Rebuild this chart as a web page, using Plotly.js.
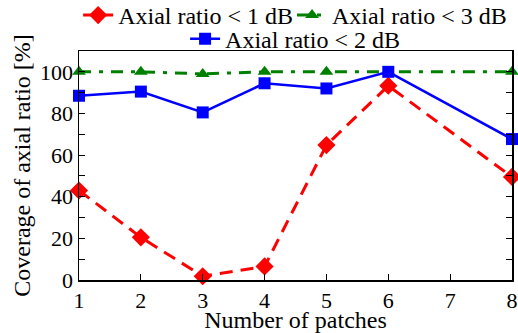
<!DOCTYPE html>
<html>
<head>
<meta charset="utf-8">
<script src="https://cdn.plot.ly/plotly-3.0.1.min.js"></script>
<style>html,body{margin:0;padding:0;background:#fff;}#chart{width:518px;height:333px;}</style>
</head>
<body>
<div id="chart"></div>
<script>
const patches = [1, 2, 3, 4, 5, 6, 8];
const ar1dB = [43, 20.5, 1.8, 6.5, 64.8, 93.3, 49.5];
const ar2dB = [88.5, 90.5, 80.5, 94.5, 92, 100, 67.7];
const ar3dB = [100, 100, 99, 100, 100, 100, 100];
const names = ['Axial ratio < 1 dB', 'Axial ratio < 2 dB', 'Axial ratio < 3 dB'];
const xTicks = [1, 2, 3, 4, 5, 6, 7, 8];
const yTicks = [0, 20, 40, 60, 80, 100];

const font = 'Liberation Serif';
const traces = [
  {x: patches, y: ar1dB, name: names[0], type: 'scatter', mode: 'lines+markers', legend: 'legend',
   line: {color: '#ff0000', width: 3, dash: '13px,8px'},
   marker: {symbol: 'diamond', size: 14, color: '#ff0000'}, cliponaxis: false},
  {x: patches, y: ar3dB, name: names[2], type: 'scatter', mode: 'lines+markers', legend: 'legend3',
   line: {color: '#008000', width: 3, dash: '12px,8px,4px,8px'},
   marker: {symbol: 'triangle-up', size: 12, color: '#008000'}, cliponaxis: false},
  {x: patches, y: ar2dB, name: names[1], type: 'scatter', mode: 'lines+markers', legend: 'legend2',
   line: {color: '#0000ff', width: 2.5},
   marker: {symbol: 'square', size: 12, color: '#0000ff'}, cliponaxis: false}
];

const legBase = {orientation: 'h', xanchor: 'left', yanchor: 'middle', bgcolor: 'rgba(0,0,0,0)',
                 font: {family: font, size: 24}, itemwidth: 30};

const layout = {
  width: 518, height: 333,
  margin: {l: 79, r: 6, t: 51, b: 53, autoexpand: false},
  paper_bgcolor: '#fff', plot_bgcolor: '#fff',
  font: {family: font, size: 22, color: '#000'},
  xaxis: {
    range: [1, 8], tickvals: xTicks, ticks: 'inside', ticklen: 6, tickcolor: '#000',
    showline: true, linecolor: '#000', linewidth: 1.5, mirror: true, showgrid: false, zeroline: false,
    tickfont: {family: font, size: 22},
    title: {text: 'Number of patches', font: {family: font, size: 24}, standoff: 1}
  },
  yaxis: {
    range: [0, 110], tickvals: yTicks, ticks: 'inside', ticklen: 6, tickcolor: '#000',
    showline: true, linecolor: '#000', linewidth: 1.5, mirror: 'ticks', showgrid: false, zeroline: false,
    minor: {dtick: 10, ticks: 'inside', ticklen: 6, tickcolor: '#000'},
    tickfont: {family: font, size: 22},
    title: {text: 'Coverage of axial ratio [%]', font: {family: font, size: 24}, standoff: 2}
  },
  showlegend: true,
  legend: Object.assign({}, legBase, {x: -0.002, y: 1.155}),
  legend3: Object.assign({}, legBase, {x: 0.492, y: 1.155}),
  legend2: Object.assign({}, legBase, {x: 0.245, y: 1.052})
};

Plotly.newPlot('chart', traces, layout, {displayModeBar: false, staticPlot: true});
</script>
</body>
</html>
